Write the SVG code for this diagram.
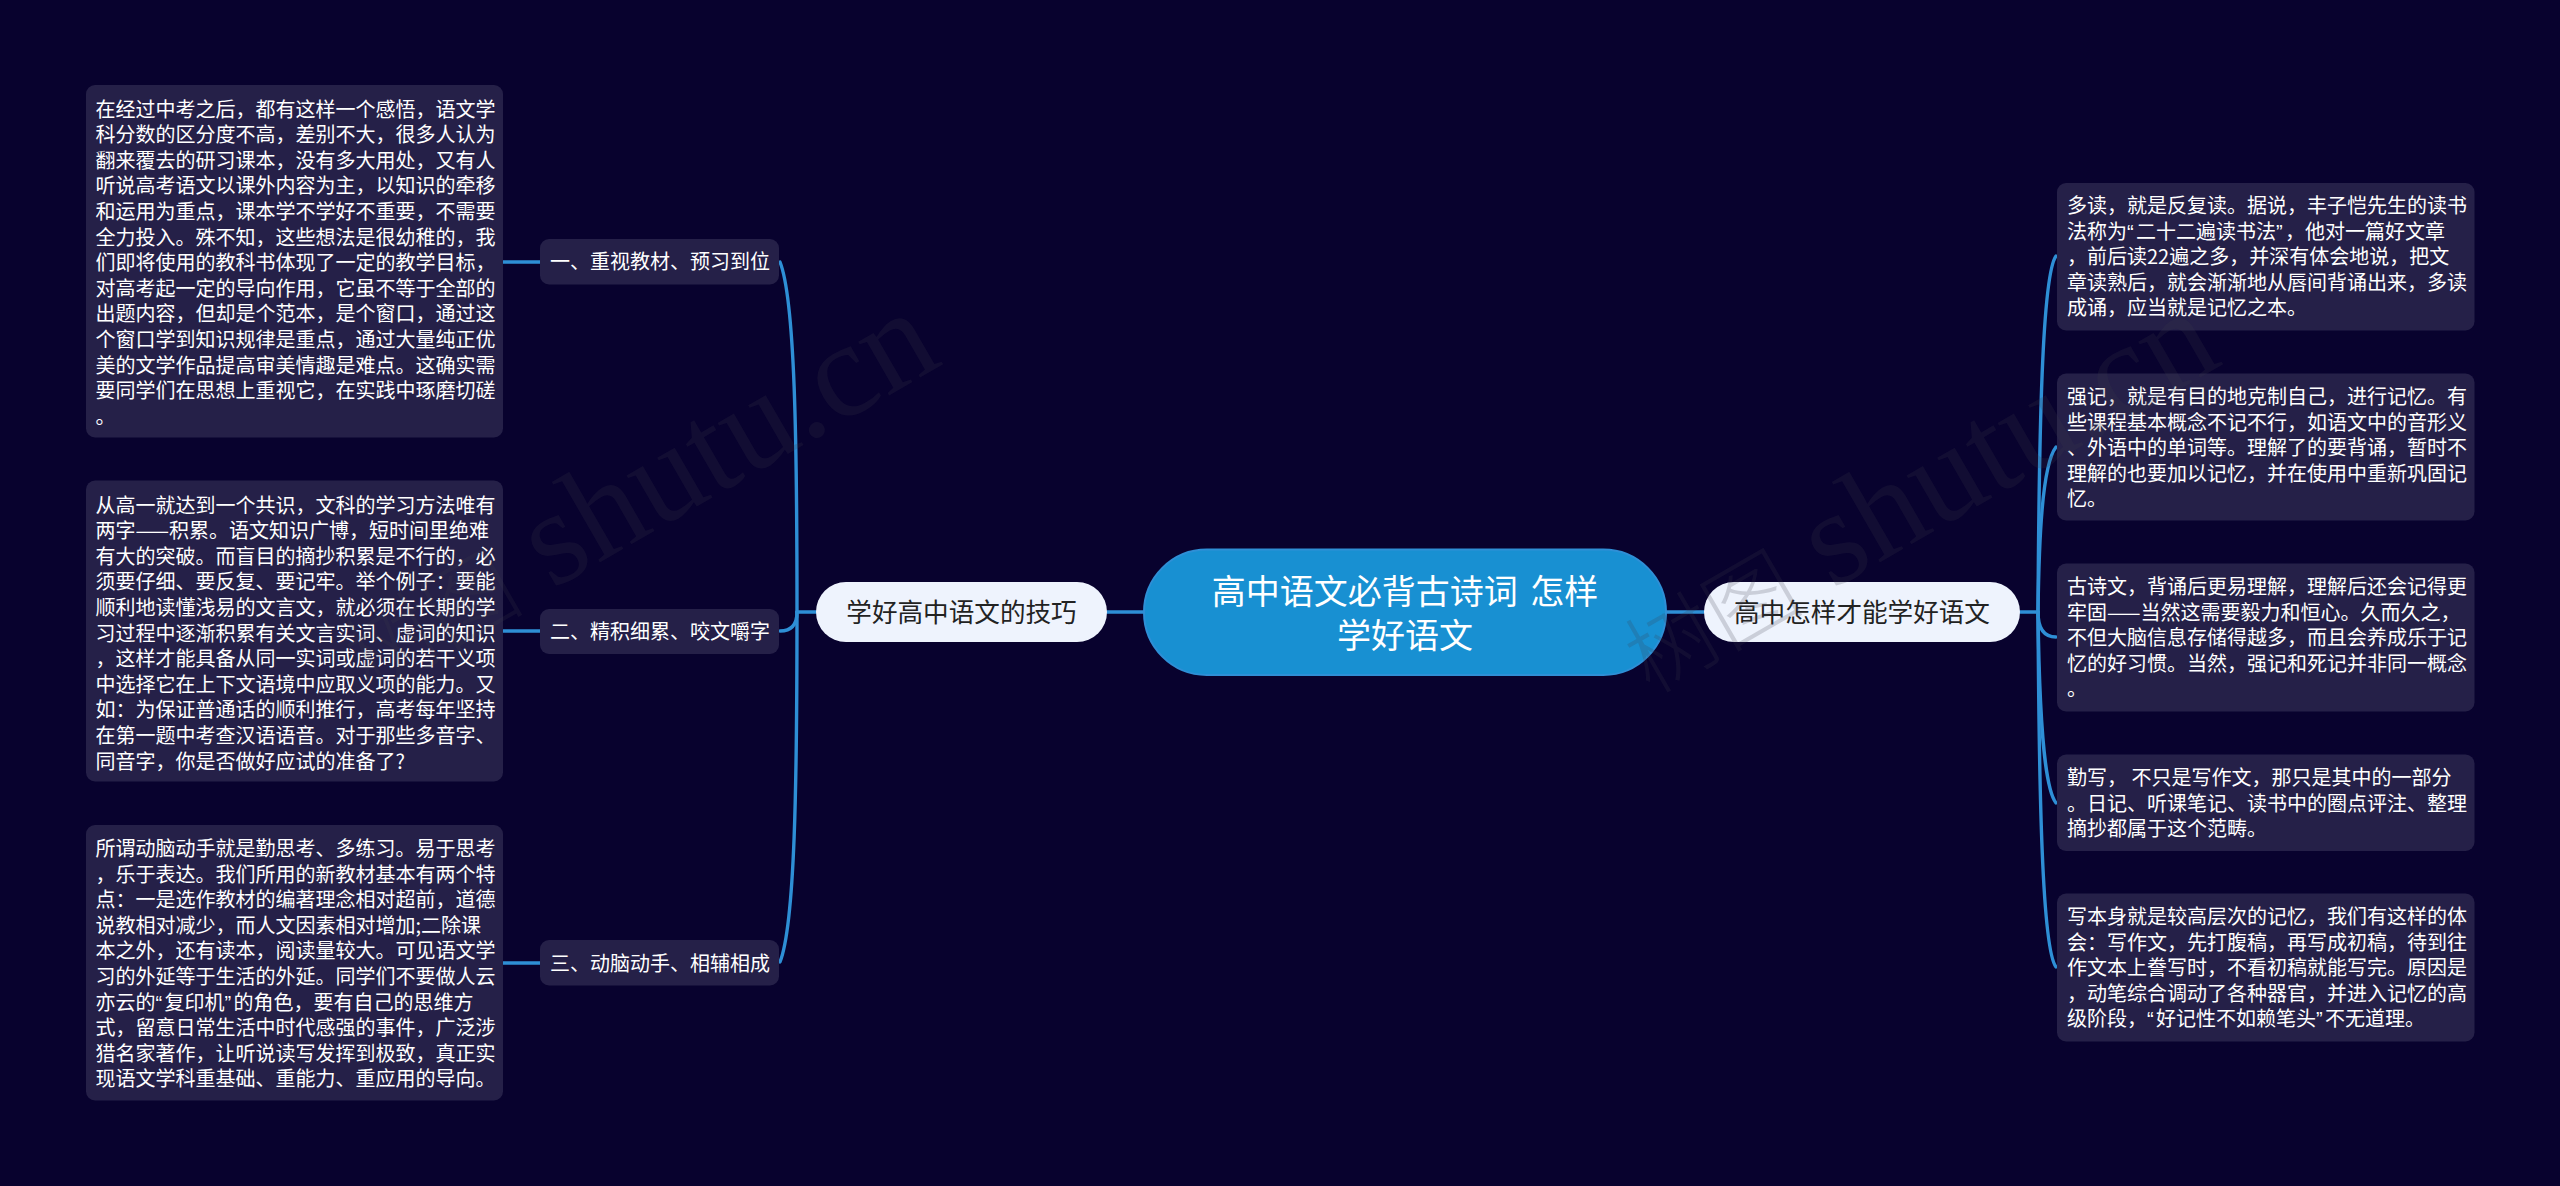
<svg xmlns="http://www.w3.org/2000/svg" width="2560" height="1186" viewBox="0 0 2560 1186">
<defs>
<style>
text{font-family:"Noto Sans CJK SC","Noto Sans",sans-serif}
.bg{fill:#08022e}
.box{fill:#252048}
.lt{font-size:20px;fill:#ffffff}
.sub{fill:#eef3fd}
.st{font-size:25.6px;fill:#222222;text-anchor:middle}
.rootbox{fill:#1890d2;stroke:#2e8fd6;stroke-width:2}
.rt{font-size:34px;fill:#ffffff;text-anchor:middle;word-spacing:5px}
.link{fill:none;stroke:#2e8fd6;stroke-width:3.4;stroke-linecap:round}
.wm{font-family:"Liberation Serif","Noto Sans CJK SC",serif;font-size:135px;fill:#3c3c4a;fill-opacity:.2}
.wc{font-family:"Noto Sans CJK SC",sans-serif;font-weight:300;font-size:90px}
.q{font-family:"Liberation Sans",sans-serif;letter-spacing:2.3px}
</style>
</defs>
<rect class="bg" x="0" y="0" width="2560" height="1186"/>
<g id="connectors">
<path class="link" d="M1107 612H1144"/>
<path class="link" d="M1666 612H1704"/>
<path class="link" d="M816 612H797"/>
<path class="link" d="M797 612C797 440 795 300 780 262"/>
<path class="link" d="M797 612C797 626 790 631 780 631"/>
<path class="link" d="M797 612C797 784 795 924 780 962"/>
<path class="link" d="M540 262H503"/>
<path class="link" d="M540 631H503"/>
<path class="link" d="M540 963H503"/>
<path class="link" d="M2020 612H2038"/>
<path class="link" d="M2038 612C2039 434 2042 275 2056 256"/>
<path class="link" d="M2038 612C2039 540 2042 465 2056 447"/>
<path class="link" d="M2038 612C2038 628 2044 637 2056 637"/>
<path class="link" d="M2038 612C2039 690 2042 785 2056 803"/>
<path class="link" d="M2038 612C2039 790 2042 949 2056 967"/>
</g>
<g id="root"><rect class="rootbox" x="1144" y="549.5" width="522" height="125.5" rx="62.7"/>
<text class="rt"><tspan x="1405" y="604">高中语文必背古诗词 怎样</tspan><tspan x="1405" y="647.5">学好语文</tspan></text></g>
<g id="branch-left"><rect class="sub" x="816" y="582" width="291" height="60" rx="30"/><text class="st" x="961.5" y="621.5">学好高中语文的技巧</text></g>
<g id="branch-right"><rect class="sub" x="1704" y="582" width="316" height="60" rx="30"/><text class="st" x="1862" y="621.5">高中怎样才能学好语文</text></g>
<g id="topic-1"><rect class="box" x="540" y="239" width="239" height="45.5" rx="9"/><text class="lt" x="550" y="269">一、重视教材、预习到位</text></g>
<g id="topic-2"><rect class="box" x="540" y="609" width="239" height="45" rx="9"/><text class="lt" x="550" y="639">二、精积细累、咬文嚼字</text></g>
<g id="topic-3"><rect class="box" x="540" y="940" width="239" height="45.5" rx="9"/><text class="lt" x="550" y="970.5">三、动脑动手、相辅相成</text></g>
<g id="leaf-l1"><rect class="box" x="86" y="85" width="417" height="352.5" rx="9"/>
<text class="lt"><tspan x="95.5" y="116.5">在经过中考之后，都有这样一个感悟，语文学</tspan><tspan x="95.5" y="142.1">科分数的区分度不高，差别不大，很多人认为</tspan><tspan x="95.5" y="167.7">翻来覆去的研习课本，没有多大用处，又有人</tspan><tspan x="95.5" y="193.3">听说高考语文以课外内容为主，以知识的牵移</tspan><tspan x="95.5" y="218.9">和运用为重点，课本学不学好不重要，不需要</tspan><tspan x="95.5" y="244.5">全力投入。殊不知，这些想法是很幼稚的，我</tspan><tspan x="95.5" y="270.1">们即将使用的教科书体现了一定的教学目标，</tspan><tspan x="95.5" y="295.7">对高考起一定的导向作用，它虽不等于全部的</tspan><tspan x="95.5" y="321.3">出题内容，但却是个范本，是个窗口，通过这</tspan><tspan x="95.5" y="346.9">个窗口学到知识规律是重点，通过大量纯正优</tspan><tspan x="95.5" y="372.5">美的文学作品提高审美情趣是难点。这确实需</tspan><tspan x="95.5" y="398.1">要同学们在思想上重视它，在实践中琢磨切磋</tspan><tspan x="95.5" y="423.7">。</tspan></text></g>
<g id="leaf-l2"><rect class="box" x="86" y="480.5" width="417" height="301" rx="9"/>
<text class="lt"><tspan x="95.5" y="512.5">从高一就达到一个共识，文科的学习方法唯有</tspan><tspan x="95.5" y="538.1">两字——积累。语文知识广博，短时间里绝难</tspan><tspan x="95.5" y="563.7">有大的突破。而盲目的摘抄积累是不行的，必</tspan><tspan x="95.5" y="589.3">须要仔细、要反复、要记牢。举个例子：要能</tspan><tspan x="95.5" y="614.9">顺利地读懂浅易的文言文，就必须在长期的学</tspan><tspan x="95.5" y="640.5">习过程中逐渐积累有关文言实词、虚词的知识</tspan><tspan x="95.5" y="666.1">，这样才能具备从同一实词或虚词的若干义项</tspan><tspan x="95.5" y="691.7">中选择它在上下文语境中应取义项的能力。又</tspan><tspan x="95.5" y="717.3">如：为保证普通话的顺利推行，高考每年坚持</tspan><tspan x="95.5" y="742.9">在第一题中考查汉语语音。对于那些多音字、</tspan><tspan x="95.5" y="768.5">同音字，你是否做好应试的准备了?</tspan></text></g>
<g id="leaf-l3"><rect class="box" x="86" y="825" width="417" height="275.5" rx="9"/>
<text class="lt"><tspan x="95.5" y="856">所谓动脑动手就是勤思考、多练习。易于思考</tspan><tspan x="95.5" y="881.6">，乐于表达。我们所用的新教材基本有两个特</tspan><tspan x="95.5" y="907.2">点：一是选作教材的编著理念相对超前，道德</tspan><tspan x="95.5" y="932.8">说教相对减少，而人文因素相对增加;二除课</tspan><tspan x="95.5" y="958.4">本之外，还有读本，阅读量较大。可见语文学</tspan><tspan x="95.5" y="984">习的外延等于生活的外延。同学们不要做人云</tspan><tspan x="95.5" y="1009.6">亦云的<tspan class="q">“</tspan>复印机<tspan class="q">”</tspan>的角色，要有自己的思维方</tspan><tspan x="95.5" y="1035.2">式，留意日常生活中时代感强的事件，广泛涉</tspan><tspan x="95.5" y="1060.8">猎名家著作，让听说读写发挥到极致，真正实</tspan><tspan x="95.5" y="1086.4">现语文学科重基础、重能力、重应用的导向。</tspan></text></g>
<g id="leaf-r1"><rect class="box" x="2057" y="183" width="417.5" height="147.5" rx="9"/>
<text class="lt"><tspan x="2067" y="213">多读，就是反复读。据说，丰子恺先生的读书</tspan><tspan x="2067" y="238.6">法称为<tspan class="q">“</tspan>二十二遍读书法<tspan class="q">”</tspan>，他对一篇好文章</tspan><tspan x="2067" y="264.2">，前后读22遍之多，并深有体会地说，把文</tspan><tspan x="2067" y="289.8">章读熟后，就会渐渐地从唇间背诵出来，多读</tspan><tspan x="2067" y="315.4">成诵，应当就是记忆之本。</tspan></text></g>
<g id="leaf-r2"><rect class="box" x="2057" y="373.5" width="417.5" height="147" rx="9"/>
<text class="lt"><tspan x="2067" y="404">强记，就是有目的地克制自己，进行记忆。有</tspan><tspan x="2067" y="429.6">些课程基本概念不记不行，如语文中的音形义</tspan><tspan x="2067" y="455.2">、外语中的单词等。理解了的要背诵，暂时不</tspan><tspan x="2067" y="480.8">理解的也要加以记忆，并在使用中重新巩固记</tspan><tspan x="2067" y="506.4">忆。</tspan></text></g>
<g id="leaf-r3"><rect class="box" x="2057" y="563.5" width="417.5" height="148" rx="9"/>
<text class="lt"><tspan x="2067" y="594">古诗文，背诵后更易理解，理解后还会记得更</tspan><tspan x="2067" y="619.6">牢固——当然这需要毅力和恒心。久而久之，</tspan><tspan x="2067" y="645.2">不但大脑信息存储得越多，而且会养成乐于记</tspan><tspan x="2067" y="670.8">忆的好习惯。当然，强记和死记并非同一概念</tspan><tspan x="2067" y="696.4">。</tspan></text></g>
<g id="leaf-r4"><rect class="box" x="2057" y="754.5" width="417.5" height="96.5" rx="9"/>
<text class="lt"><tspan x="2067" y="785">勤写， 不只是写作文，那只是其中的一部分</tspan><tspan x="2067" y="810.6">。日记、听课笔记、读书中的圈点评注、整理</tspan><tspan x="2067" y="836.2">摘抄都属于这个范畴。</tspan></text></g>
<g id="leaf-r5"><rect class="box" x="2057" y="893.5" width="417.5" height="148" rx="9"/>
<text class="lt"><tspan x="2067" y="924">写本身就是较高层次的记忆，我们有这样的体</tspan><tspan x="2067" y="949.6">会：写作文，先打腹稿，再写成初稿，待到往</tspan><tspan x="2067" y="975.2">作文本上誊写时，不看初稿就能写完。原因是</tspan><tspan x="2067" y="1000.8">，动笔综合调动了各种器官，并进入记忆的高</tspan><tspan x="2067" y="1026.4">级阶段，<tspan class="q">“</tspan>好记性不如赖笔头<tspan class="q">”</tspan>不无道理。</tspan></text></g>
<g id="watermark">
<text class="wm" transform="translate(552 590) rotate(-30)"><tspan class="wc" x="-210" y="0">树图</tspan><tspan x="0" y="0">shutu.cn</tspan></text>
<text class="wm" transform="translate(1832 590) rotate(-30)"><tspan class="wc" x="-210" y="0">树图</tspan><tspan x="0" y="0">shutu.cn</tspan></text>
</g>
</svg>
